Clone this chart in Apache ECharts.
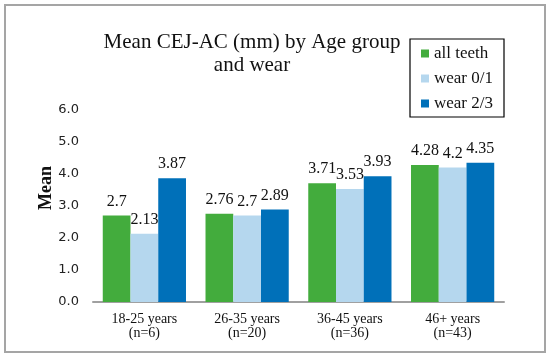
<!DOCTYPE html>
<html>
<head>
<meta charset="utf-8">
<script src="https://cdn.jsdelivr.net/npm/echarts@6/dist/echarts.min.js"></script>
<style>html,body{margin:0;padding:0;background:#fff}#c{width:550px;height:360px}</style>
</head>
<body>
<div id="c"></div>
<script>
var categories = ['18-25 years\n(n=6)', '26-35 years\n(n=20)', '36-45 years\n(n=36)', '46+ years\n(n=43)'];
var allTeeth = [2.7, 2.76, 3.71, 4.28];
var wear01 = [2.13, 2.7, 3.53, 4.2];
var wear23 = [3.87, 2.89, 3.93, 4.35];
var seriesNames = ['all teeth', 'wear 0/1', 'wear 2/3'];
var colors = ['#43AC3D', '#B5D7EE', '#0070B9'];

var chart = echarts.init(document.getElementById('c'), null, {renderer: 'canvas'});
var serif = '"Liberation Serif", "Times New Roman", serif';
function mk(name, data, color) {
  return {
    name: name, type: 'bar', data: data, barGap: '0%', barCategoryGap: '19%',
    itemStyle: {color: color},
    label: {show: true, position: 'top', distance: 6, color: '#111', fontFamily: serif, fontSize: 16}
  };
}
chart.setOption({
  animation: false,
  title: {
    text: 'Mean CEJ-AC (mm) by Age group\nand wear',
    left: 252, top: 31, textAlign: 'center', padding: 0,
    textStyle: {fontFamily: serif, fontSize: 21, fontWeight: 'normal', color: '#111', lineHeight: 23}
  },
  legend: {
    orient: 'vertical', left: 410, top: 39,
    padding: [6, 11, 5, 11], itemGap: 8, itemWidth: 8, itemHeight: 8,
    borderColor: '#000', borderWidth: 1.2,
    icon: 'rect',
    textStyle: {fontFamily: serif, fontSize: 17, color: '#111', lineHeight: 17},
    data: seriesNames
  },
  grid: {left: 93, right: 46, top: 110, bottom: 58},
  xAxis: {
    type: 'category', data: categories,
    axisLine: {lineStyle: {color: '#A0A0A0', width: 2}},
    axisTick: {show: false},
    axisLabel: {fontFamily: serif, fontSize: 14, color: '#111', margin: 10, lineHeight: 14}
  },
  yAxis: {
    type: 'value', min: 0, max: 6, interval: 1,
    axisLine: {show: false}, axisTick: {show: false}, splitLine: {show: false},
    axisLabel: {fontFamily: '"DejaVu Sans", sans-serif', fontSize: 13, color: '#222', margin: 14,
      formatter: function (v) { return v.toFixed(1); }}
  },
  graphic: [
    {type: 'rect', shape: {x: 5, y: 5, width: 540, height: 347}, style: {fill: 'none', stroke: '#A5A5A5', lineWidth: 2}, silent: true},
    {type: 'text', x: 46, y: 188, rotation: Math.PI / 2,
      style: {text: 'Mean', font: 'bold 18px ' + serif, fill: '#111', textAlign: 'center', textVerticalAlign: 'middle'}}
  ],
  series: [mk(seriesNames[0], allTeeth, colors[0]), mk(seriesNames[1], wear01, colors[1]), mk(seriesNames[2], wear23, colors[2])]
});
</script>
</body>
</html>
